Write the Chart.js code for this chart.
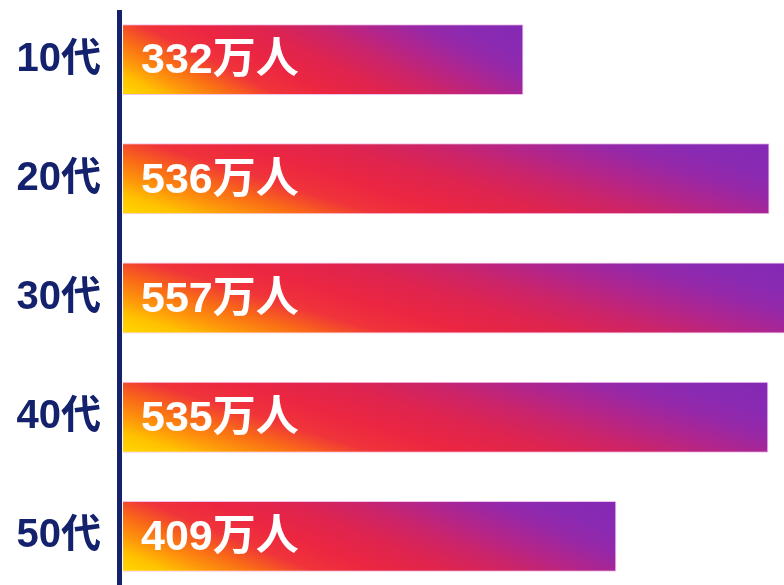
<!DOCTYPE html>
<html>
<head>
<meta charset="utf-8">
<script src="https://cdn.jsdelivr.net/npm/chart.js@4/dist/chart.umd.min.js"></script>
<style>
  html, body { margin: 0; padding: 0; background: #fff; overflow: hidden; }
  #wrap { width: 784px; height: 596px; }
</style>
</head>
<body>
<div id="wrap"><canvas id="chart" width="784" height="596"></canvas></div>
<script>
const ageGroups = ["10代", "20代", "30代", "40代", "50代"];
const users = [332, 536, 557, 535, 409];
const unit = "万人";

const navy = "#14216c";
const barPct = 0.595;
const fontFamily = '"Liberation Sans", Arial, "Noto Sans CJK JP", sans-serif';

// instagram-like gradient, yellow in the lower left, purple in the upper right
const stops = [
  [0.00, "#ffd800"],
  [0.07, "#ffc200"],
  [0.13, "#fe980a"],
  [0.21, "#f96818"],
  [0.29, "#f0343a"],
  [0.38, "#ec2641"],
  [0.50, "#de244f"],
  [0.60, "#cc2469"],
  [0.70, "#b2258b"],
  [0.80, "#9628a8"],
  [0.88, "#8a2ab2"],
  [1.00, "#8329b5"]
];

function barGradient(ctx) {
  if (ctx.type !== "data") return "#e1306c";
  const chart = ctx.chart;
  const { chartArea, scales } = chart;
  if (!chartArea) return "#e1306c";
  const i = ctx.dataIndex;
  const x0 = scales.x.getPixelForValue(0);
  const x1 = scales.x.getPixelForValue(users[i]);
  const band = Math.abs(scales.y.getPixelForValue(1) - scales.y.getPixelForValue(0));
  const h = band * barPct;
  const yBottom = scales.y.getPixelForValue(i) + h / 2;
  const w = x1 - x0;
  // t = 0.74 * (along bar) + 0.26 * (up the bar)
  const a = 0.74 / w;
  const b = 0.26 / h;
  const s = a * a + b * b;
  const g = chart.ctx.createLinearGradient(x0, yBottom, x0 + a / s, yBottom - b / s);
  stops.forEach(([t, c]) => g.addColorStop(t, c));
  return g;
}

const axisLine = {
  id: "axisLine",
  beforeDatasetsDraw(chart) {
    const c = chart.ctx;
    c.save();
    c.fillStyle = navy;
    c.fillRect(chart.chartArea.left - 6, 10, 5, chart.height - 10);
    c.restore();
  }
};

const valueLabels = {
  id: "valueLabels",
  afterDatasetsDraw(chart) {
    const c = chart.ctx;
    const meta = chart.getDatasetMeta(0);
    c.save();
    c.fillStyle = "#ffffff";
    c.font = "bold 43px " + fontFamily;
    c.textAlign = "left";
    c.textBaseline = "middle";
    meta.data.forEach((bar, i) => {
      c.fillText(users[i] + unit, bar.base + 18, bar.y + 2);
    });
    c.restore();
  }
};

new Chart(document.getElementById("chart"), {
  type: "bar",
  data: {
    labels: ageGroups,
    datasets: [{
      data: users,
      backgroundColor: barGradient,
      borderColor: "rgba(240, 170, 230, 0.7)",
      borderWidth: 1,
      borderSkipped: "left",
      barPercentage: barPct,
      categoryPercentage: 1
    }]
  },
  options: {
    indexAxis: "y",
    responsive: false,
    animation: false,
    layout: { padding: 0 },
    plugins: {
      legend: { display: false },
      tooltip: { enabled: false }
    },
    scales: {
      x: {
        display: false,
        min: 0,
        max: 548
      },
      y: {
        grid: { display: false, drawTicks: false },
        border: { display: false },
        afterFit(scale) {
          scale.width = 123;
          scale.paddingTop = 0;
          scale.paddingBottom = 0;
        },
        ticks: {
          color: navy,
          padding: 22,
          font: { family: fontFamily, size: 40, weight: "bold" }
        }
      }
    }
  },
  plugins: [axisLine, valueLabels]
});
</script>
</body>
</html>
